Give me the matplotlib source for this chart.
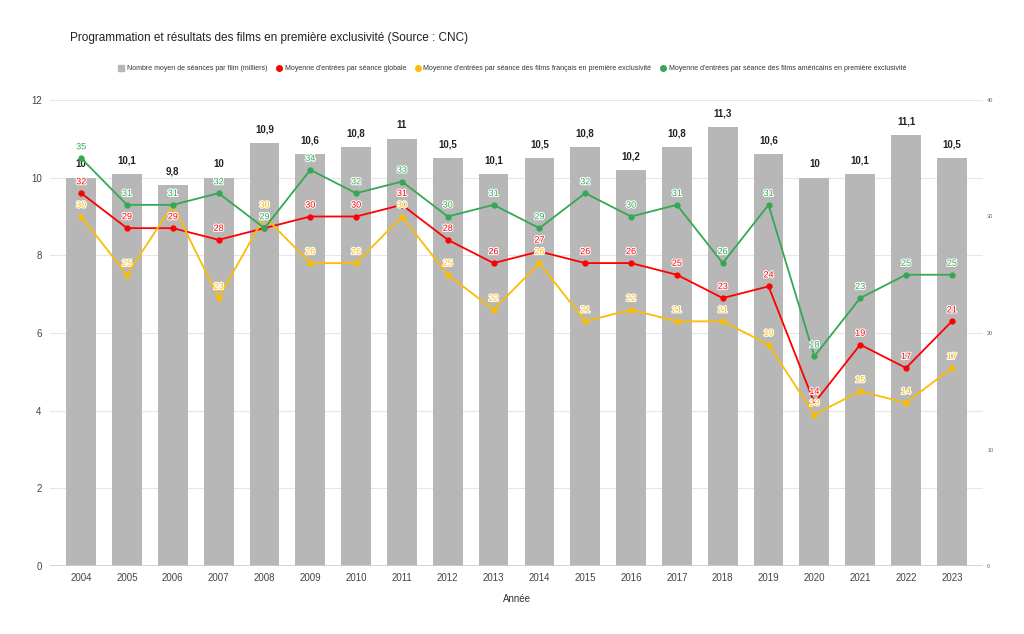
import matplotlib
matplotlib.use("Agg")
import matplotlib.pyplot as plt
import matplotlib.patheffects as pe
from matplotlib.lines import Line2D

years = [str(y) for y in range(2004, 2024)]
seances = [10, 10.1, 9.8, 10, 10.9, 10.6, 10.8, 11, 10.5, 10.1,
           10.5, 10.8, 10.2, 10.8, 11.3, 10.6, 10, 10.1, 11.1, 10.5]
globale = [32, 29, 29, 28, 29, 30, 30, 31, 28, 26,
           27, 26, 26, 25, 23, 24, 14, 19, 17, 21]
francais = [30, 25, 31, 23, 30, 26, 26, 30, 25, 22,
            26, 21, 22, 21, 21, 19, 13, 15, 14, 17]
americains = [35, 31, 31, 32, 29, 34, 32, 33, 30, 31,
              29, 32, 30, 31, 26, 31, 18, 23, 25, 25]

labels = [
    "Nombre moyen de séances par film (milliers)",
    "Moyenne d'entrées par séance globale",
    "Moyenne d'entrées par séance des films français en première exclusivité",
    "Moyenne d'entrées par séance des films américains en première exclusivité",
]
GREY = "#b7b7b7"
RED = "#ff0000"
YELLOW = "#fbbc04"
GREEN = "#34a853"

plt.rcParams["font.family"] = ["Liberation Sans", "DejaVu Sans"]

fig = plt.figure(figsize=(10.24, 6.34), dpi=100)
ax = fig.add_axes([50 / 1024, 68 / 634, 933 / 1024, 466 / 634])
ax2 = ax.twinx()

x = list(range(len(years)))
ax.bar(x, seances, width=0.65, color=GREY, zorder=2)
for xi, v in zip(x, seances):
    ax.text(xi, v + 0.22, f"{v:g}".replace(".", ","), ha="center", va="bottom",
            fontsize=7, fontweight="bold", color="#222222", zorder=5)

ax.set_xlim(-0.68, len(years) - 0.32)
ax.set_ylim(0, 12)
ax.set_yticks(range(0, 13, 2))
ax.set_xticks(x)
ax.set_xticklabels(years)
ax.tick_params(axis="both", labelsize=7, colors="#444444", length=0, pad=5)
ax.tick_params(axis="y", pad=6)
ax.grid(axis="y", color="#e6e6e6", linewidth=0.8, zorder=0)
ax.set_axisbelow(True)
for s in ax.spines.values():
    s.set_visible(False)
ax.axhline(0, color="#cccccc", linewidth=1.2, zorder=3)
ax.set_xlabel("Année", fontsize=7, color="#333333", labelpad=8)

ax2.set_ylim(0, 40)
ax2.set_yticks(range(0, 41, 10))
ax2.tick_params(axis="y", labelsize=4, colors="#666666", length=0, pad=3)
for s in ax2.spines.values():
    s.set_visible(False)

for series, color in [(globale, RED), (francais, YELLOW), (americains, GREEN)]:
    ax2.plot(x, series, color=color, linewidth=1.3, marker="o", markersize=3.5, zorder=4)
    for xi, v in zip(x, series):
        ax2.annotate(str(v), (xi, v), xytext=(0, 5), textcoords="offset points",
                     ha="center", va="bottom", fontsize=6.5, color=color, zorder=6,
                     path_effects=[pe.withStroke(linewidth=1.5, foreground="white")])

fig.text(70 / 1024, 1 - 38 / 634, "Programmation et résultats des films en première exclusivité (Source : CNC)",
         fontsize=8.5, color="#222222", va="center")

handles = [
    Line2D([], [], linestyle="none", marker="s", markersize=4, color=GREY),
    Line2D([], [], linestyle="none", marker="o", markersize=4, color=RED),
    Line2D([], [], linestyle="none", marker="o", markersize=4, color=YELLOW),
    Line2D([], [], linestyle="none", marker="o", markersize=4, color=GREEN),
]
fig.legend(handles, labels, loc="center", bbox_to_anchor=(0.5, 1 - 69 / 634), ncol=4,
           frameon=False, fontsize=5, handletextpad=0.3, columnspacing=1.2, handlelength=1,
           labelcolor="#333333")

fig.savefig("out.png", dpi=100, facecolor="white")
